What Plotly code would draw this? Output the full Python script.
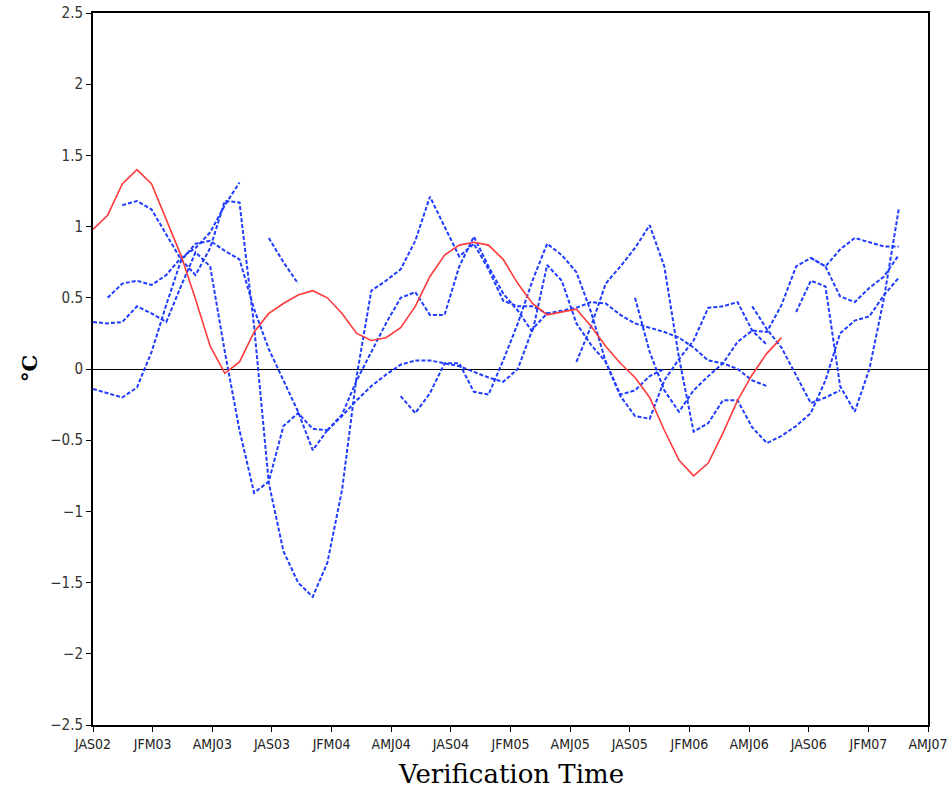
import plotly.graph_objects as go

# ---- data -------------------------------------------------------------
tick_labels = ["JAS02", "JFM03", "AMJ03", "JAS03", "JFM04", "AMJ04", "JAS04",
               "JFM05", "AMJ05", "JAS05", "JFM06", "AMJ06", "JAS06", "JFM07", "AMJ07"]
n_months = 57  # month index span of the axis

observed_start = 0
observed = [0.98, 1.08, 1.30, 1.40, 1.30, 1.05, 0.80, 0.49, 0.16, -0.03,
            0.05, 0.26, 0.39, 0.46, 0.52, 0.55, 0.50, 0.39, 0.25, 0.20,
            0.22, 0.29, 0.44, 0.65, 0.80, 0.87, 0.89, 0.87, 0.77, 0.60,
            0.46, 0.38, 0.40, 0.42, 0.30, 0.16, 0.04, -0.06, -0.20, -0.43,
            -0.64, -0.75, -0.66, -0.45, -0.22, -0.04, 0.11, 0.22]

fc01_start = 0
fc01 = [-0.14, -0.17, -0.20, -0.13, 0.12, 0.45, 0.76, 0.88, 0.90, 0.83, 0.77, 0.42,
        0.14, -0.08, -0.30, -0.57, -0.43]
fc02_start = 0
fc02 = [0.33, 0.32, 0.33, 0.44, 0.39, 0.33, 0.58, 0.82, 0.72, 0.12, -0.43, -0.87,
        -0.79, -0.40, -0.31, -0.42, -0.43]
fc03_start = 1
fc03 = [0.50, 0.60, 0.62, 0.59, 0.66, 0.78, 0.85, 0.96, 1.15, 1.31]
fc04_start = 2
fc04 = [1.15, 1.18, 1.12, 0.94, 0.77, 0.66, 0.85, 1.18, 1.17, 0.30, -0.80, -1.28,
        -1.50, -1.60, -1.36, -0.85, -0.05, 0.55, 0.62, 0.70, 0.90, 1.21, 1.00, 0.79,
        0.88, 0.70, 0.48, 0.44, 0.44, 0.39]
fc05_start = 12
fc05 = [0.92, 0.75, 0.60]
fc06_start = 16
fc06 = [-0.43, -0.33, -0.22, -0.12, -0.04, 0.03, 0.06, 0.06, 0.04, 0.02,
        -0.02, -0.06, -0.09, 0.00, 0.28, 0.39, 0.41, 0.43, 0.47, 0.46,
        0.38, 0.32, 0.29, 0.26, 0.22, 0.15, 0.06, 0.04, 0.00, -0.08, -0.12]
fc07_start = 16
fc07 = [-0.43, -0.32, -0.08, 0.12, 0.32, 0.50, 0.54, 0.38, 0.38, 0.72,
        0.93, 0.72, 0.53, 0.41, 0.26, 0.73, 0.62, 0.32, 0.17, 0.05,
        -0.19, -0.33, -0.35, -0.08, 0.07, 0.20, 0.43, 0.44, 0.47, 0.27, 0.17]
fc08_start = 21
fc08 = [-0.19, -0.31, -0.17, 0.04, 0.04, -0.16, -0.18, 0.06, 0.32, 0.62, 0.88,
        0.80, 0.68, 0.40, 0.05, -0.18, -0.15, -0.05, 0.00]
fc09_start = 33
fc09 = [0.05, 0.30, 0.60, 0.72, 0.85, 1.01, 0.72, 0.08, -0.44, -0.38, -0.22, -0.22,
        -0.41, -0.52, -0.47, -0.40, -0.31, -0.08, 0.25, 0.34, 0.37, 0.52, 0.64]
fc10_start = 37
fc10 = [0.50, 0.12, -0.15, -0.30, -0.15, -0.05, 0.04, 0.19, 0.27, 0.26, 0.45,
        0.72, 0.78, 0.72, 0.51, 0.47, 0.57, 0.65, 0.80]
fc11_start = 45
fc11 = [0.44, 0.28, 0.15, -0.05, -0.24, -0.20, -0.15]
fc12_start = 48
fc12 = [0.40, 0.62, 0.58, -0.12, -0.30, 0.00, 0.50, 1.12]
fc13_start = 49
fc13 = [0.78, 0.72, 0.84, 0.92, 0.89, 0.86, 0.86]

forecasts = [(fc01_start, fc01), (fc02_start, fc02), (fc03_start, fc03),
             (fc04_start, fc04), (fc05_start, fc05), (fc06_start, fc06),
             (fc07_start, fc07), (fc08_start, fc08), (fc09_start, fc09),
             (fc10_start, fc10), (fc11_start, fc11), (fc12_start, fc12),
             (fc13_start, fc13)]

# ---- figure -----------------------------------------------------------
fig = go.Figure()

for start, vals in forecasts:
    fig.add_trace(go.Scatter(
        x=list(range(start, start + len(vals))), y=vals, mode="lines",
        line=dict(color="#1f3cff", width=2, dash="4px,2px"),
        showlegend=False, hoverinfo="skip"))

fig.add_trace(go.Scatter(
    x=list(range(observed_start, observed_start + len(observed))), y=observed,
    mode="lines", line=dict(color="#ff3b3b", width=1.6),
    showlegend=False, hoverinfo="skip"))

tickvals = [i * n_months / (len(tick_labels) - 1) for i in range(len(tick_labels))]
tick_family = "DejaVu Sans Condensed, Liberation Sans Narrow, DejaVu Sans"

fig.update_layout(
    width=949, height=788, autosize=False,
    margin=dict(l=93, r=21, t=13, b=63, pad=0),
    paper_bgcolor="white", plot_bgcolor="white",
    xaxis=dict(range=[0, n_months], tickvals=tickvals, ticktext=tick_labels,
               automargin=False,
               showgrid=False, zeroline=False, showline=True, mirror=True,
               linecolor="black", linewidth=2, ticks="outside", ticklen=5,
               tickcolor="black", tickwidth=1,
               tickfont=dict(family=tick_family, size=14, color="#222")),
    yaxis=dict(range=[-2.5, 2.5], dtick=0.5, tick0=0, showgrid=False,
               automargin=False,
               zeroline=True, zerolinecolor="black", zerolinewidth=1,
               showline=True, mirror=True, linecolor="black", linewidth=2,
               ticks="outside", ticklen=5, tickcolor="black", tickwidth=1,
               tickfont=dict(family=tick_family, size=15, color="#333")),
    annotations=[
        dict(text="Verification Time", xref="paper", yref="paper",
             x=0.5, y=0, yshift=-49, xanchor="center", yanchor="middle",
             showarrow=False,
             font=dict(family="DejaVu Serif", size=26, color="black")),
        dict(text="<b>°C</b>", xref="paper", yref="paper", x=0, xshift=-64,
             y=0.5, xanchor="center", yanchor="middle", textangle=-90,
             showarrow=False,
             font=dict(family="DejaVu Serif", size=21, color="black")),
    ],
)

fig.write_html("out.html")
